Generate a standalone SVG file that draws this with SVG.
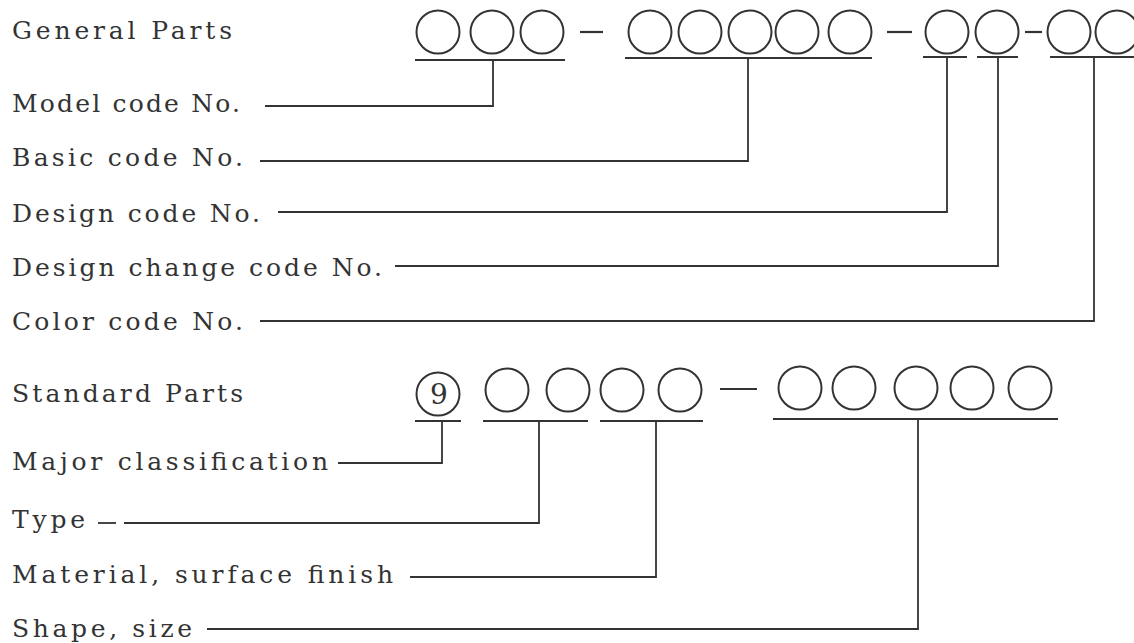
<svg xmlns="http://www.w3.org/2000/svg" width="1134" height="643" viewBox="0 0 1134 643">
<style>
.t{font-family:"DejaVu Serif","Liberation Serif",serif;font-size:25px;fill:#333333}
.c{fill:none;stroke:#333333;stroke-width:2}
.u{fill:none;stroke:#333333;stroke-width:2.2}
.l{fill:none;stroke:#333333;stroke-width:1.8}
</style>
<rect width="1134" height="643" fill="#ffffff"/>
<g id="general-title"><text class="t" x="12" y="39" textLength="220" lengthAdjust="spacing">General Parts</text></g>
<g id="general-code">
<circle class="c" cx="438" cy="32" r="21.5"/>
<circle class="c" cx="492" cy="32" r="21.5"/>
<circle class="c" cx="542" cy="32" r="21.5"/>
<line class="u" x1="580" y1="32" x2="603" y2="32"/>
<circle class="c" cx="650" cy="32" r="21.5"/>
<circle class="c" cx="700" cy="32" r="21.5"/>
<circle class="c" cx="750" cy="32" r="21.5"/>
<circle class="c" cx="797" cy="32" r="21.5"/>
<circle class="c" cx="850" cy="32" r="21.5"/>
<line class="u" x1="887" y1="32" x2="912" y2="32"/>
<circle class="c" cx="947" cy="32" r="21.5"/>
<circle class="c" cx="997" cy="32" r="21.5"/>
<line class="u" x1="1025" y1="32" x2="1042" y2="32"/>
<circle class="c" cx="1069" cy="32" r="21.5"/>
<circle class="c" cx="1117" cy="32" r="21.5"/>
<line class="u" x1="415" y1="60" x2="565" y2="60"/>
<line class="u" x1="625" y1="58" x2="872" y2="58"/>
<line class="u" x1="923" y1="57" x2="967" y2="57"/>
<line class="u" x1="977" y1="57" x2="1018" y2="57"/>
<line class="u" x1="1050" y1="57" x2="1134" y2="57"/>
</g>
<g id="label-model"><text class="t" x="12" y="112" textLength="228" lengthAdjust="spacing">Model code No.</text></g>
<g id="label-basic"><text class="t" x="12" y="166" textLength="231" lengthAdjust="spacing">Basic code No.</text></g>
<g id="label-design"><text class="t" x="12" y="222" textLength="248" lengthAdjust="spacing">Design code No.</text></g>
<g id="label-design-change"><text class="t" x="12" y="276" textLength="370" lengthAdjust="spacing">Design change code No.</text></g>
<g id="label-color"><text class="t" x="12" y="330" textLength="231" lengthAdjust="spacing">Color code No.</text></g>
<g id="standard-title"><text class="t" x="12" y="402" textLength="231" lengthAdjust="spacing">Standard Parts</text></g>
<g id="standard-code">
<circle class="c" cx="438" cy="394" r="21.5"/>
<text x="439" y="404" text-anchor="middle" style="font-family:'DejaVu Serif','Liberation Serif',serif;font-size:28px;fill:#333333">9</text>
<circle class="c" cx="507" cy="390" r="21.5"/>
<circle class="c" cx="568" cy="390" r="21.5"/>
<circle class="c" cx="622" cy="390" r="21.5"/>
<circle class="c" cx="680" cy="390" r="21.5"/>
<line class="u" x1="720" y1="389" x2="757" y2="389"/>
<circle class="c" cx="800" cy="388" r="21.5"/>
<circle class="c" cx="854" cy="388" r="21.5"/>
<circle class="c" cx="916" cy="388" r="21.5"/>
<circle class="c" cx="972" cy="388" r="21.5"/>
<circle class="c" cx="1030" cy="388" r="21.5"/>
<line class="u" x1="415" y1="421" x2="461" y2="421"/>
<line class="u" x1="483" y1="421" x2="588" y2="421"/>
<line class="u" x1="600" y1="421" x2="703" y2="421"/>
<line class="u" x1="773" y1="419" x2="1058" y2="419"/>
</g>
<g id="label-major"><text class="t" x="12" y="470" textLength="316" lengthAdjust="spacing">Major classification</text></g>
<g id="label-type"><text class="t" x="12" y="528" textLength="73" lengthAdjust="spacing">Type</text></g>
<g id="label-material"><text class="t" x="12" y="583" textLength="381" lengthAdjust="spacing">Material, surface finish</text></g>
<g id="label-shape"><text class="t" x="12" y="637" textLength="180" lengthAdjust="spacing">Shape, size</text></g>
<g id="connectors">
<path class="l" d="M265,106 H493 V60"/>
<path class="l" d="M260,161 H748 V58"/>
<path class="l" d="M278,212 H947 V57"/>
<path class="l" d="M395,266 H998 V57"/>
<path class="l" d="M260,321 H1094 V57"/>
<path class="l" d="M338,463 H442 V421"/>
<path class="l" d="M98,523 H116"/>
<path class="l" d="M124,523 H539 V421"/>
<path class="l" d="M410,577 H656 V421"/>
<path class="l" d="M207,629 H918 V419"/>
</g>
</svg>
